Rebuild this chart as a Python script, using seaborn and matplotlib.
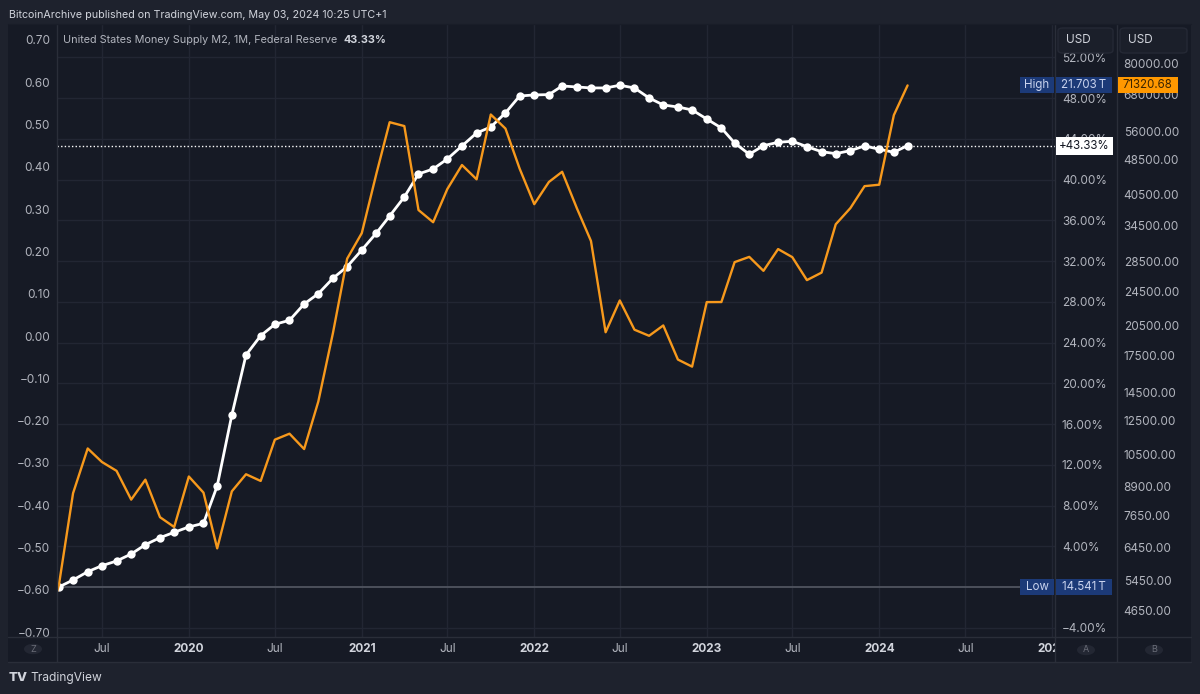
import numpy as np
import pandas as pd
import matplotlib
matplotlib.use("Agg")
import matplotlib.pyplot as plt
from matplotlib.lines import Line2D
from matplotlib.patches import Rectangle, Circle, FancyBboxPatch
from matplotlib.ticker import FixedLocator, FixedFormatter, NullLocator, NullFormatter
import seaborn as sns

# Bitcoin monthly closes (USD), Mar 2019 .. Mar 2024
btc_months = pd.date_range("2019-03-01", "2024-03-01", freq="MS")
btc_close = [4105, 5320, 8574, 10817, 10085, 9630, 8293, 9199, 7569, 7193,
             9350, 8600, 6438, 8658, 9461, 9137, 11323, 11680, 10784, 13804, 19713, 28990,
             33114, 45137, 58918, 57750, 37332, 35041, 41626, 47166, 43791, 61318, 57005, 46306,
             38483, 43193, 45539, 37714, 31792, 19785, 23336, 20050, 19423, 20495, 17168, 16548,
             23139, 23147, 28478, 29268, 27220, 30477, 29230, 25940, 26968, 34668, 37713, 42265,
             42580, 61130, 71320.68]

# US M2 money supply (trillion USD), Apr 2019 .. Mar 2024
m2_months = pd.date_range("2019-04-01", "2024-03-01", freq="MS")
m2_trillions = [14.541, 14.641, 14.759, 14.845, 14.912, 15.012, 15.145, 15.245, 15.322,
                15.398, 15.450, 15.983, 16.996, 17.853, 18.128, 18.291, 18.348, 18.581, 18.728, 18.948, 19.114,
                19.352, 19.595, 19.837, 20.109, 20.437, 20.508, 20.651, 20.837, 21.022, 21.108, 21.308, 21.550,
                21.565, 21.570, 21.693, 21.679, 21.665, 21.665, 21.703, 21.665, 21.522, 21.422, 21.393, 21.351,
                21.222, 21.093, 20.879, 20.718, 20.841, 20.889, 20.904, 20.827, 20.755, 20.727, 20.770, 20.837,
                20.790, 20.747, 20.842]

pct_ticks = [-4, 4, 8, 12, 16, 20, 24, 28, 32, 36, 40, 44, 48, 52]
usd_ticks = [4650, 5450, 6450, 7650, 8900, 10500, 12500, 14500, 17500, 20500,
             24500, 28500, 34500, 40500, 48500, 56000, 68000, 80000]
left_ticks = [-0.7, -0.6, -0.5, -0.4, -0.3, -0.2, -0.1, 0.0, 0.1, 0.2, 0.3, 0.4, 0.5, 0.6, 0.7]
x_ticks = ["2019-07-01", "2020-01-01", "2020-07-01", "2021-01-01", "2021-07-01", "2022-01-01",
           "2022-07-01", "2023-01-01", "2023-07-01", "2024-01-01", "2024-07-01", "2025-01-01"]

m2_pct = (np.array(m2_trillions) / m2_trillions[0] - 1) * 100
last_pct = m2_pct[-1]

OUTER = "#1e222d"
BG = "#161a25"
GRID = "#222633"
SEP = "#2a2e39"
TXT = "#b2b5be"
ORANGE = "#f7991c"
BLUE = "#1c3a78"

sns.set_theme(style="dark")
plt.rcParams["font.family"] = ["Inter", "DejaVu Sans"]
plt.rcParams["axes.unicode_minus"] = True

W, H = 1200, 694
fig = plt.figure(figsize=(12, 6.94), dpi=100, facecolor=OUTER)


def fx(x):
    return x / W


def fy(y):
    return 1 - y / H


# chart frame
fig.add_artist(Rectangle((fx(8), fy(662)), fx(1191) - fx(8), fy(24) - fy(662),
                         transform=fig.transFigure, facecolor=BG, edgecolor="none", zorder=-1))

ax = fig.add_axes([fx(57), fy(637), fx(1055) - fx(57), fy(24) - fy(637)])
ax.set_facecolor(BG)

# white M2 line (% change) on axis A
sns.lineplot(x=m2_months, y=m2_pct, ax=ax, color="white", linewidth=2,
             marker="o", markersize=6, markeredgewidth=0, zorder=4)
ax.axhline(last_pct, color="white", lw=1, linestyle=(0, (1, 1.6)), zorder=3)
ax.axhline(0, xmax=(1020 - 57) / (1055 - 57), color="#50545f", lw=1.3, zorder=2)

ax.set_xlim(pd.Timestamp("2019-03-28"), pd.Timestamp("2025-01-07"))
ax.set_ylim(-4.909, 55.27)
ax.set_xticks(pd.to_datetime(x_ticks))
ax.set_xticklabels([d[:4] if d[5:7] == "01" else "Jul" for d in x_ticks])
for lbl, d in zip(ax.get_xticklabels(), x_ticks):
    if d[5:7] == "01":
        lbl.set_fontweight("bold")
        lbl.set_color("#d1d4dc")
    else:
        lbl.set_color(TXT)
ax.tick_params(axis="x", length=0, pad=4.5, labelsize=8.5)
ax.grid(True, color=GRID, lw=1)
ax.set_xlabel("")
ax.set_ylabel("")
for s in ax.spines.values():
    s.set_visible(False)

# orange BTC line on log axis B
ax_b = ax.twinx()
sns.lineplot(x=btc_months, y=btc_close, ax=ax_b, color=ORANGE, linewidth=1.7, zorder=5)
ax_b.set_yscale("log")
ax_b.set_ylim(4062, 98130)
ax_b.yaxis.set_major_locator(FixedLocator(usd_ticks))
ax_b.yaxis.set_major_formatter(FixedFormatter([f"{t:.2f}" for t in usd_ticks]))
ax_b.yaxis.set_minor_locator(NullLocator())
ax_b.yaxis.set_minor_formatter(NullFormatter())
ax_b.tick_params(axis="y", length=0, pad=49.5, labelcolor=TXT, labelsize=8.5)
ax_b.set_ylabel("")
ax_b.grid(False)
for s in ax_b.spines.values():
    s.set_visible(False)

# left scale
ax_z = ax.twinx()
ax_z.yaxis.tick_left()
ax_z.set_ylim(-0.7117, 0.7378)
ax_z.yaxis.set_major_locator(FixedLocator(left_ticks))
ax_z.yaxis.set_major_formatter(FixedFormatter([f"{t:.2f}".replace("-", "\u2212") for t in left_ticks]))
ax_z.tick_params(axis="y", length=0, pad=5, labelcolor=TXT, labelsize=8.5)
ax_z.grid(False)
for s in ax_z.spines.values():
    s.set_visible(False)

# percent scale (axis A) goes on the right, after the twins are made
ax.yaxis.tick_right()
ax.yaxis.set_major_locator(FixedLocator(pct_ticks))
ax.yaxis.set_major_formatter(FixedFormatter([f"{t:.2f}%".replace("-", "\u2212") for t in pct_ticks]))
ax.tick_params(axis="y", left=False, labelleft=False, right=True, labelright=True,
               length=0, pad=5, labelcolor=TXT, labelsize=8.5)

# hide the cut part of the last date label
fig.add_artist(Rectangle((fx(1056), fy(661)), fx(1191) - fx(1056), fy(638) - fy(661),
                         transform=fig.transFigure, facecolor=BG, edgecolor="none", zorder=2))

# pane separators
for x in (57, 1055, 1117):
    fig.add_artist(Line2D([fx(x), fx(x)], [fy(24), fy(662)], transform=fig.transFigure,
                          color=SEP, lw=1, zorder=3))
for y in (637, 662):
    fig.add_artist(Line2D([fx(8), fx(1191)], [fy(y), fy(y)], transform=fig.transFigure,
                          color=SEP, lw=1, zorder=3))
fig.add_artist(Line2D([fx(8), fx(1191)], [fy(24), fy(24)], transform=fig.transFigure,
                      color="#191d28", lw=1, zorder=3))


def box(x0, y0, x1, y1, fc, text, tc, weight="normal"):
    fig.add_artist(Rectangle((fx(x0), fy(y1)), fx(x1) - fx(x0), fy(y0) - fy(y1),
                             transform=fig.transFigure, facecolor=fc, edgecolor="none", zorder=4))
    fig.text(fx((x0 + x1) / 2), fy((y0 + y1) / 2), text, ha="center", va="center",
             color=tc, fontsize=8.3, fontweight=weight, zorder=5)


box(1020, 77, 1054, 93, BLUE, "High", "#c9d3ee")
box(1055.5, 77, 1112, 93, BLUE, "21.703\u2009T", "#c9d3ee")
box(1020, 579, 1054, 595, BLUE, "Low", "#c9d3ee")
box(1055.5, 579, 1112, 595, BLUE, "14.541\u2009T", "#c9d3ee")
box(1117.5, 77, 1178, 93, "#ff9800", "71320.68", "#3b2500")
box(1055.5, 137, 1113, 155, "white", f"+{last_pct:.2f}%", "#131722")

# USD buttons
for x0, x1 in ((1058, 1113), (1120, 1187)):
    fig.add_artist(FancyBboxPatch((fx(x0), fy(53)), fx(x1) - fx(x0), fy(28) - fy(53),
                                  boxstyle="round,pad=0,rounding_size=0.004",
                                  transform=fig.transFigure, facecolor="#1b1f2a",
                                  edgecolor="#252935", lw=1, zorder=4))
    fig.text(fx(x0 + 8), fy(40), "USD", ha="left", va="center", color="#d1d4dc",
             fontsize=8.5, zorder=5)

# Z / A / B buttons
for cx, cy, s in ((33, 649, "Z"), (1086, 650, "A"), (1154, 650, "B")):
    fig.add_artist(Circle((fx(cx), fy(cy)), 9 / W, transform=fig.transFigure,
                          facecolor="#232733", edgecolor="none", zorder=4))
    fig.text(fx(cx), fy(cy), s, ha="center", va="center", color="#6a6d78",
             fontsize=6.5, zorder=5)

# legend line
fig.text(fx(63), fy(40), "United States Money Supply M2, 1M, Federal Reserve",
         ha="left", va="center", color=TXT, fontsize=7.8, zorder=5)
fig.text(fx(343), fy(40), f"{last_pct:.2f}%", ha="left", va="center",
         color="#d1d4dc", fontsize=7.8, fontweight="bold", zorder=5)

# header and footer
fig.text(fx(9), fy(15), "BitcoinArchive published on TradingView.com, May 03, 2024 10:25 UTC+1",
         ha="left", va="center", color="#d1d4dc", fontsize=7.7)
fig.text(fx(9), fy(678), "TV", ha="left", va="center", color="#d1d4dc",
         fontsize=9.5, fontweight="heavy")
fig.text(fx(30), fy(678), "TradingView", ha="left", va="center", color="#d1d4dc",
         fontsize=8.6)

fig.savefig("out.png", dpi=100, facecolor=OUTER)
